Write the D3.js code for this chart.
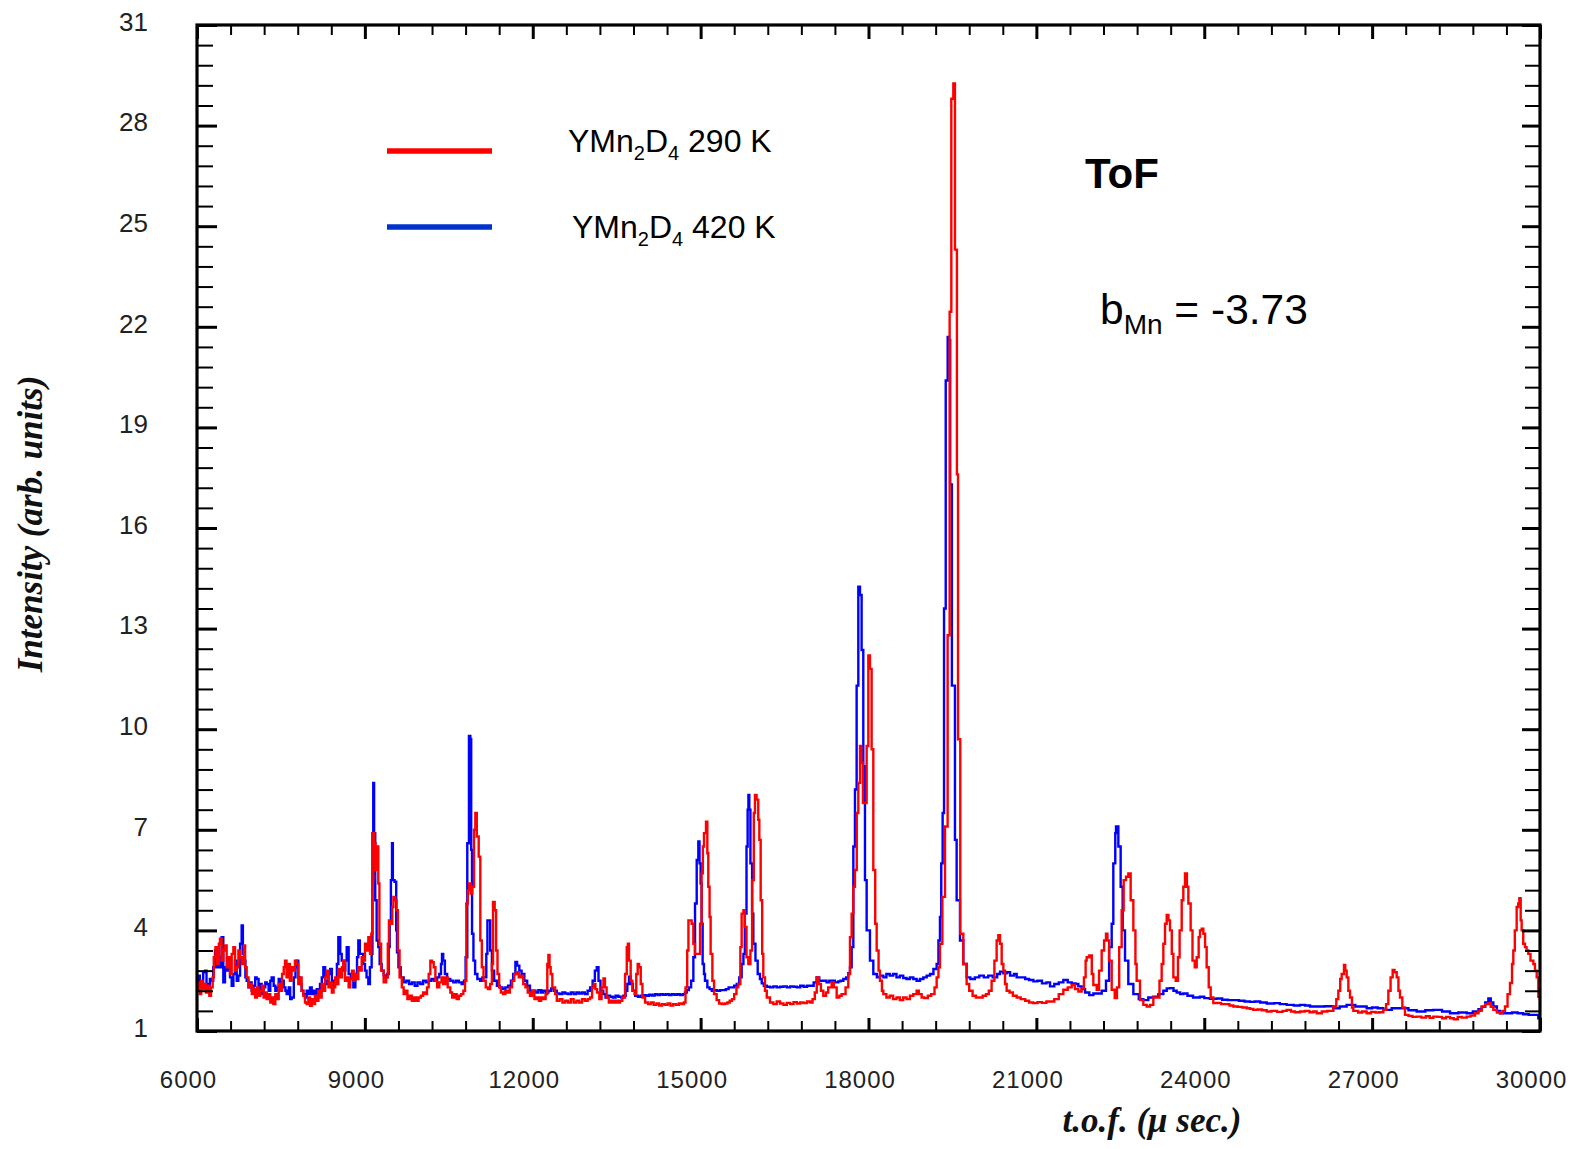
<!DOCTYPE html>
<html><head><meta charset="utf-8">
<script src="https://cdn.jsdelivr.net/npm/d3@7"></script>
<style>
html,body{margin:0;padding:0;background:#fff;}
svg{display:block;}
</style></head>
<body>
<svg id="chart" width="1573" height="1149"></svg>
<script>
// ---- data (time of flight in µs, intensity in arb. units) ----
const tofMajorTicks = [6000, 9000, 12000, 15000, 18000, 21000, 24000, 27000, 30000];
const intensityMajorTicks = [1, 4, 7, 10, 13, 16, 19, 22, 25, 28, 31];
const legendLabels = [{base:"YMn", s1:"2", mid:"D", s2:"4", tail:" 290 K"}, {base:"YMn", s1:"2", mid:"D", s2:"4", tail:" 420 K"}];

const series290 = [
[6000,2.2],[6025,2.45],[6050,2.1],[6075,2.5],[6100,2.25],[6130,2.4],[6160,2.15],[6190,2.35],[6220,2.05],[6250,2.3],[6280,2.6],[6300,3.2],[6330,3.5],[6360,3.0],[6390,3.6],[6411,3.75],[6440,3.1],[6470,3.4],[6500,3.55],[6530,2.9],[6560,3.2],[6590,2.7],[6620,3.3],[6650,3.5],[6680,2.8],[6709,2.9],[6740,3.4],[6768,3.2],[6800,3.0],[6840,3.55],[6860,2.9],[6888,2.6],[6920,2.3],[6947,2.4],[6980,2.1],[7010,2.25],[7040,2.0],[7070,2.3],[7100,2.05],[7130,2.2],[7160,2.35],[7190,2.0],[7220,2.15],[7245,1.95],[7280,2.1],[7310,1.85],[7340,2.0],[7364,1.8],[7400,2.1],[7430,1.95],[7460,2.4],[7490,2.2],[7520,2.7],[7550,2.9],[7573,3.1],[7600,2.6],[7630,3.0],[7660,2.5],[7690,2.9],[7722,2.8],[7750,3.1],[7781,3.0],[7810,2.4],[7841,2.6],[7870,2.2],[7900,2.05],[7930,1.85],[7960,1.8],[7990,2.0],[8020,1.75],[8050,1.95],[8079,1.8],[8110,2.05],[8140,1.9],[8170,2.2],[8200,2.0],[8228,2.4],[8260,2.2],[8290,2.6],[8317,2.8],[8350,2.3],[8377,2.45],[8410,2.15],[8440,2.3],[8470,2.6],[8500,2.4],[8526,2.85],[8560,2.6],[8590,2.9],[8615,3.1],[8645,2.5],[8675,2.6],[8710,2.3],[8740,2.55],[8770,2.8],[8800,2.5],[8830,2.7],[8860,2.55],[8883,2.9],[8910,2.8],[8943,3.2],[8970,3.1],[9002,3.6],[9030,3.4],[9062,3.8],[9092,3.3],[9115,3.9],
[9135,5.5],[9150,6.9],[9170,6.6],[9190,5.8],[9217,6.5],[9240,5.4],[9260,3.6],[9290,2.8],[9336,2.45],[9380,2.6],[9410,3.6],[9430,4.3],[9460,4.2],[9490,4.7],[9510,5.0],[9540,4.9],[9565,4.6],[9590,3.4],[9620,2.6],[9660,2.3],[9693,2.1],[9730,2.2],[9760,1.95],[9800,2.05],[9840,1.9],[9880,2.0],[9920,1.9],[9960,2.0],[10000,2.05],[10040,2.15],[10080,2.1],[10110,2.3],[10140,2.7],[10170,3.1],[10200,3.05],[10230,2.9],[10260,2.5],[10290,2.3],[10330,2.45],[10370,2.6],[10400,2.4],[10440,2.6],[10480,2.3],[10527,2.15],[10560,2.0],[10600,2.1],[10640,1.95],[10680,2.05],[10720,2.1],[10760,2.2],[10790,2.5],[10813,4.8],[10840,5.2],[10860,5.4],[10890,5.1],[10920,5.3],[10950,7.0],[10974,7.5],[11000,6.8],[11034,6.2],[11063,3.7],[11090,2.9],[11120,2.5],[11160,2.3],[11200,2.25],[11240,2.4],[11270,3.0],[11290,4.85],[11320,4.6],[11345,3.4],[11370,2.7],[11400,2.3],[11430,2.15],[11470,2.1],[11510,2.2],[11550,2.15],[11590,2.3],[11630,2.5],[11670,2.7],[11710,2.75],[11750,2.6],[11790,2.65],[11830,2.4],[11870,2.3],[11910,2.15],[11950,2.05],[11990,2.2],[12030,1.95],[12070,2.0],[12110,1.9],[12150,2.0],[12191,1.95],[12230,2.1],[12260,3.0],[12280,3.27],[12300,2.9],[12320,2.7],[12350,2.3],[12400,2.1],[12430,1.9],[12480,1.95],[12530,1.85],[12580,1.9],[12630,1.85],[12680,1.95],[12730,1.85],[12780,1.9],[12830,1.85],[12880,1.95],[12930,1.9],[12980,1.95],[13025,2.0],[13060,2.3],[13090,2.4],[13120,2.25],[13150,2.15],[13190,1.95],[13230,2.3],[13263,2.57],[13290,2.3],[13320,2.0],[13360,1.85],[13400,1.9],[13440,1.85],[13480,1.9],[13520,1.85],[13560,1.9],[13600,2.0],[13650,2.7],[13680,3.5],[13700,3.6],[13720,3.1],[13750,2.5],[13780,2.2],[13820,2.1],[13850,2.7],[13875,3.0],[13900,2.9],[13930,2.4],[13960,2.0],[14008,1.85],[14060,1.8],[14110,1.85],[14160,1.78],[14210,1.82],[14260,1.76],[14310,1.8],[14360,1.78],[14410,1.82],[14460,1.76],[14510,1.8],[14560,1.78],[14610,1.82],[14660,1.8],[14700,1.85],[14730,2.3],[14760,3.4],[14782,4.3],[14810,4.3],[14840,4.2],[14870,3.6],[14899,3.3],[14930,3.3],[14959,3.3],[14990,4.2],[15018,5.7],[15040,6.5],[15060,6.9],[15096,7.24],[15120,6.3],[15137,5.3],[15160,4.4],[15179,3.3],[15210,2.5],[15240,2.1],[15286,1.92],[15330,1.82],[15380,1.8],[15430,1.82],[15480,1.85],[15520,1.9],[15560,1.95],[15600,2.1],[15640,2.3],[15673,2.4],[15710,3.5],[15733,4.5],[15765,4.6],[15790,4.1],[15820,3.2],[15852,3.0],[15890,3.4],[15920,5.5],[15950,7.5],[15971,8.04],[16000,7.9],[16030,7.3],[16049,6.7],[16073,4.9],[16100,3.3],[16120,2.6],[16150,2.2],[16182,2.0],[16240,1.85],[16300,1.8],[16360,1.88],[16420,1.82],[16480,1.78],[16540,1.84],[16600,1.8],[16660,1.86],[16720,1.82],[16780,1.85],[16840,1.83],[16900,1.88],[16956,1.85],[17000,1.95],[17040,2.15],[17075,2.6],[17110,2.4],[17150,2.2],[17192,2.05],[17240,2.15],[17280,2.3],[17341,2.45],[17380,2.3],[17431,2.0],[17480,2.05],[17520,2.1],[17550,2.1],[17590,2.3],[17639,2.7],[17669,3.8],[17699,4.5],[17729,5.3],[17758,5.8],[17790,7.5],[17818,8.4],[17848,9.5],[17870,9.0],[17900,7.8],[17937,7.8],[17967,9.5],[17997,12.2],[18026,11.8],[18056,9.4],[18086,5.8],[18120,4.2],[18146,3.4],[18180,2.8],[18205,2.5],[18240,2.2],[18265,2.1],[18320,2.0],[18380,2.05],[18440,1.95],[18500,2.0],[18560,1.92],[18620,2.0],[18680,1.95],[18740,2.05],[18800,2.1],[18860,2.2],[18900,2.1],[18950,2.0],[19000,1.98],[19060,2.05],[19120,2.1],[19180,2.3],[19218,2.6],[19250,2.9],[19277,3.6],[19320,5.0],[19367,7.1],[19414,12.8],[19450,22.45],[19480,28.8],[19516,29.26],[19545,24.3],[19580,17.6],[19600,9.7],[19640,3.9],[19694,3.0],[19754,2.4],[19800,2.2],[19860,2.05],[19920,2.0],[19980,2.0],[20040,2.05],[20100,2.1],[20150,2.2],[20200,2.5],[20250,3.1],[20290,3.7],[20320,3.86],[20350,3.6],[20380,3.0],[20410,2.8],[20440,2.4],[20469,2.2],[20520,2.15],[20580,2.05],[20648,2.0],[20720,1.95],[20800,1.9],[20870,1.85],[20946,1.83],[21020,1.86],[21100,1.84],[21180,1.88],[21244,1.88],[21320,1.95],[21400,2.1],[21482,2.23],[21560,2.3],[21631,2.37],[21690,2.25],[21750,2.18],[21809,2.28],[21850,2.6],[21880,3.1],[21899,3.2],[21946,3.25],[21990,2.7],[22018,2.37],[22078,2.23],[22120,2.8],[22167,3.4],[22210,3.7],[22244,3.9],[22270,3.7],[22300,3.1],[22346,2.23],[22400,1.98],[22440,2.3],[22480,3.5],[22524,4.6],[22560,5.5],[22602,5.6],[22643,5.7],[22685,4.9],[22733,4.0],[22770,3.0],[22792,2.5],[22852,1.92],[22911,1.78],[22971,1.73],[23030,1.78],[23090,2.0],[23150,2.0],[23200,2.5],[23239,3.0],[23269,3.6],[23299,4.2],[23329,4.46],[23360,4.3],[23388,4.0],[23420,3.3],[23448,2.6],[23490,2.5],[23530,3.2],[23560,4.0],[23597,4.9],[23626,5.3],[23656,5.7],[23690,5.3],[23716,4.8],[23757,4.0],[23790,3.1],[23830,2.9],[23865,3.2],[23900,3.8],[23924,4.0],[23955,4.05],[23984,3.9],[24015,3.5],[24043,2.9],[24080,2.3],[24115,2.0],[24162,1.83],[24222,1.84],[24300,1.8],[24380,1.8],[24450,1.76],[24520,1.73],[24600,1.72],[24680,1.7],[24760,1.68],[24818,1.66],[24877,1.63],[24950,1.64],[25030,1.62],[25116,1.58],[25200,1.6],[25300,1.57],[25400,1.6],[25473,1.63],[25550,1.58],[25620,1.56],[25711,1.58],[25800,1.6],[25880,1.56],[25950,1.58],[26009,1.53],[26100,1.58],[26200,1.6],[26307,1.73],[26360,1.95],[26396,2.2],[26430,2.55],[26456,2.7],[26497,2.97],[26520,2.8],[26545,2.6],[26575,2.2],[26605,2.0],[26640,1.7],[26664,1.6],[26750,1.55],[26820,1.58],[26902,1.53],[26980,1.57],[27060,1.55],[27130,1.56],[27200,1.63],[27250,1.8],[27290,2.2],[27330,2.6],[27367,2.82],[27400,2.75],[27439,2.6],[27470,2.2],[27498,2.0],[27540,1.7],[27587,1.48],[27650,1.45],[27720,1.42],[27796,1.43],[27880,1.4],[27960,1.44],[28030,1.39],[28094,1.43],[28170,1.42],[28250,1.38],[28320,1.42],[28392,1.38],[28460,1.35],[28530,1.42],[28600,1.4],[28690,1.43],[28760,1.46],[28838,1.53],[28900,1.6],[28958,1.73],[29020,1.8],[29077,1.83],[29120,1.72],[29166,1.63],[29230,1.55],[29285,1.53],[29330,1.6],[29374,1.73],[29420,2.1],[29464,2.43],[29500,3.0],[29523,3.4],[29550,4.0],[29583,4.7],[29610,4.8],[29631,4.96],[29655,4.3],[29672,4.0],[29700,3.6],[29732,3.5],[29760,3.4],[29791,3.3],[29830,3.1],[29881,3.0],[29910,2.8],[29941,2.6],[29970,2.02],[30000,1.9]
];

const series420 = [
[6000,2.5],[6024,2.65],[6050,2.3],[6083,2.45],[6110,2.75],[6143,2.8],[6170,2.4],[6203,2.3],[6230,2.55],[6260,2.5],[6290,2.9],[6322,3.4],[6350,2.9],[6380,3.2],[6411,2.9],[6440,3.8],[6470,2.45],[6500,2.9],[6530,2.8],[6560,3.1],[6590,2.6],[6620,2.35],[6650,2.7],[6679,3.1],[6710,2.5],[6739,2.65],[6770,3.6],[6798,4.15],[6820,3.3],[6840,3.1],[6865,2.6],[6888,2.5],[6920,2.3],[6950,2.45],[6977,2.2],[7010,2.35],[7040,2.6],[7066,2.55],[7100,2.25],[7130,2.4],[7156,2.1],[7190,2.3],[7220,2.45],[7245,2.4],[7280,2.2],[7310,2.5],[7334,2.6],[7370,2.35],[7400,2.2],[7424,2.3],[7460,2.55],[7490,2.4],[7513,2.5],[7550,2.3],[7580,2.2],[7602,2.1],[7640,2.3],[7665,1.95],[7692,2.0],[7730,2.6],[7760,2.9],[7781,3.1],[7810,2.6],[7841,2.4],[7870,2.2],[7900,2.1],[7930,2.0],[7960,2.2],[7990,2.1],[8019,2.3],[8050,2.1],[8080,2.2],[8109,2.0],[8140,2.25],[8170,2.1],[8198,2.4],[8230,2.6],[8258,2.9],[8290,2.5],[8317,2.4],[8350,2.7],[8380,2.85],[8410,2.3],[8440,2.5],[8470,2.4],[8500,3.0],[8526,3.8],[8560,3.3],[8586,3.1],[8620,2.8],[8650,3.1],[8675,3.5],[8710,2.7],[8750,2.6],[8794,2.3],[8830,2.7],[8860,3.2],[8883,3.7],[8910,3.3],[8943,3.3],[8970,3.0],[9002,2.8],[9030,2.6],[9062,2.4],[9090,2.9],[9121,3.3],
[9135,6.9],[9150,8.4],[9165,6.9],[9185,4.9],[9210,3.7],[9240,3.5],[9264,3.0],[9300,2.8],[9336,2.66],[9370,2.6],[9400,2.7],[9425,3.5],[9443,4.2],[9465,5.5],[9485,6.6],[9500,5.5],[9530,5.45],[9560,4.0],[9574,3.35],[9600,2.9],[9640,2.6],[9693,2.45],[9740,2.5],[9790,2.4],[9840,2.45],[9890,2.35],[9940,2.45],[9990,2.4],[10040,2.5],[10090,2.45],[10140,2.5],[10190,2.55],[10240,2.5],[10290,2.6],[10330,2.7],[10360,3.0],[10378,3.3],[10400,3.1],[10430,2.7],[10470,2.55],[10527,2.5],[10580,2.45],[10630,2.5],[10680,2.45],[10730,2.4],[10770,2.5],[10800,3.2],[10830,6.6],[10860,9.8],[10885,9.7],[10900,6.4],[10915,3.9],[10940,3.1],[10970,2.7],[11010,2.55],[11060,2.5],[11100,2.6],[11140,2.6],[11170,3.3],[11190,4.3],[11215,4.3],[11240,3.4],[11270,2.8],[11310,2.5],[11360,2.35],[11410,2.3],[11460,2.25],[11510,2.3],[11560,2.35],[11610,2.5],[11650,2.7],[11690,3.06],[11720,2.95],[11760,2.8],[11800,2.7],[11850,2.5],[11900,2.35],[11950,2.2],[12000,2.2],[12050,2.15],[12100,2.22],[12150,2.15],[12191,2.2],[12240,2.15],[12280,2.2],[12330,2.27],[12380,2.2],[12429,2.12],[12480,2.1],[12530,2.15],[12580,2.12],[12630,2.1],[12680,2.15],[12730,2.1],[12780,2.15],[12830,2.12],[12880,2.15],[12930,2.1],[12980,2.2],[13025,2.3],[13070,2.5],[13110,2.8],[13144,2.9],[13175,2.5],[13210,2.2],[13260,2.1],[13300,2.0],[13340,2.05],[13382,2.02],[13430,2.0],[13480,2.05],[13530,2.02],[13580,2.0],[13620,2.05],[13660,2.2],[13690,2.4],[13720,2.62],[13750,2.4],[13790,2.2],[13830,2.05],[13880,2.02],[13930,2.05],[13980,2.07],[14030,2.05],[14080,2.08],[14130,2.06],[14180,2.1],[14230,2.07],[14280,2.1],[14330,2.08],[14380,2.1],[14430,2.07],[14480,2.1],[14530,2.08],[14580,2.1],[14630,2.07],[14680,2.1],[14720,2.15],[14752,2.22],[14790,2.3],[14830,2.5],[14870,3.2],[14900,4.8],[14930,6.1],[14959,6.65],[14980,6.0],[15000,5.4],[15018,4.2],[15036,3.0],[15060,2.7],[15078,2.5],[15120,2.3],[15160,2.25],[15200,2.2],[15240,2.22],[15290,2.2],[15348,2.22],[15400,2.22],[15450,2.25],[15500,2.3],[15550,2.3],[15600,2.35],[15646,2.4],[15690,2.6],[15733,3.0],[15765,3.3],[15790,4.5],[15820,6.5],[15840,7.6],[15854,8.04],[15870,7.6],[15890,6.0],[15920,4.5],[15942,3.6],[15980,3.1],[16020,2.7],[16060,2.55],[16092,2.42],[16130,2.35],[16182,2.32],[16241,2.3],[16300,2.33],[16360,2.3],[16420,2.32],[16480,2.33],[16540,2.3],[16600,2.33],[16660,2.32],[16720,2.3],[16780,2.35],[16840,2.32],[16900,2.35],[16956,2.35],[17020,2.45],[17073,2.6],[17120,2.5],[17192,2.5],[17250,2.45],[17300,2.5],[17341,2.5],[17400,2.45],[17460,2.48],[17500,2.5],[17550,2.55],[17600,2.6],[17639,2.72],[17669,2.9],[17699,3.5],[17729,6.5],[17758,8.2],[17788,11.3],[17818,14.25],[17848,14.0],[17877,12.36],[17907,8.9],[17937,5.5],[17967,4.0],[18026,3.1],[18086,2.7],[18150,2.6],[18205,2.65],[18265,2.6],[18320,2.7],[18380,2.65],[18440,2.7],[18500,2.6],[18560,2.65],[18620,2.58],[18680,2.55],[18740,2.6],[18800,2.55],[18860,2.5],[18920,2.55],[18980,2.6],[19040,2.65],[19100,2.7],[19160,2.85],[19218,3.0],[19250,3.7],[19277,4.4],[19300,6.0],[19325,7.5],[19350,13.6],[19380,20.4],[19415,21.7],[19440,21.6],[19460,17.3],[19490,11.3],[19545,6.7],[19575,4.9],[19635,3.7],[19694,3.0],[19754,2.6],[19820,2.55],[19900,2.6],[19980,2.65],[20060,2.6],[20140,2.65],[20220,2.6],[20300,2.7],[20350,2.77],[20410,2.72],[20469,2.75],[20530,2.65],[20600,2.7],[20648,2.6],[20720,2.6],[20800,2.55],[20870,2.52],[20946,2.48],[21020,2.5],[21100,2.42],[21180,2.45],[21244,2.33],[21320,2.4],[21400,2.45],[21482,2.52],[21560,2.45],[21631,2.42],[21700,2.4],[21750,2.33],[21809,2.25],[21870,2.15],[21946,2.07],[22018,2.12],[22100,2.12],[22167,2.2],[22244,2.5],[22300,3.5],[22346,4.2],[22375,6.0],[22410,6.9],[22423,7.1],[22465,6.5],[22506,5.3],[22542,4.0],[22584,3.1],[22643,2.4],[22733,2.1],[22830,1.95],[22911,1.92],[23000,2.0],[23090,2.02],[23180,2.1],[23269,2.2],[23330,2.27],[23388,2.28],[23450,2.2],[23507,2.15],[23570,2.1],[23626,2.12],[23700,2.05],[23800,2.0],[23924,2.02],[24000,1.98],[24100,1.96],[24222,1.97],[24320,1.93],[24420,1.92],[24520,1.92],[24620,1.9],[24720,1.88],[24818,1.87],[24900,1.88],[25000,1.85],[25116,1.82],[25250,1.83],[25350,1.8],[25473,1.78],[25600,1.76],[25711,1.78],[25800,1.76],[25890,1.73],[26009,1.73],[26150,1.74],[26307,1.68],[26420,1.73],[26545,1.78],[26700,1.73],[26902,1.68],[27000,1.7],[27100,1.68],[27200,1.63],[27350,1.68],[27498,1.68],[27650,1.62],[27796,1.58],[27950,1.62],[28094,1.63],[28250,1.58],[28392,1.53],[28540,1.55],[28690,1.53],[28800,1.58],[28900,1.65],[28958,1.72],[29020,1.85],[29077,1.97],[29120,1.85],[29166,1.73],[29230,1.6],[29285,1.53],[29400,1.53],[29500,1.55],[29600,1.53],[29700,1.5],[29800,1.48],[29881,1.48],[29970,1.38],[30000,1.4]
];

// ---- layout ----
const svg = d3.select("#chart");
const L = 197, R = 1540, T = 25, B = 1031;
const x = d3.scaleLinear().domain([6000, 30000]).range([L, R]);
const y = d3.scaleLinear().domain([1, 31]).range([B, T]);

const xMinor = d3.range(6000, 30001, 600).filter(v => v % 3000 !== 0);
const yMinor = d3.range(0, 51).map(i => 1 + i * 0.6).filter(v => Math.abs((v - 1) / 3 - Math.round((v - 1) / 3)) > 1e-6);

// clip
svg.append("defs").append("clipPath").attr("id", "plot")
  .append("rect").attr("x", L).attr("y", T).attr("width", R - L).attr("height", B - T);

// series
const line = d3.line().x(d => x(d[0])).y(d => y(d[1])).curve(d3.curveStepAfter);
const g = svg.append("g").attr("clip-path", "url(#plot)");
g.append("path").datum(series420).attr("d", line).attr("fill", "none").attr("stroke", "#0000ff").attr("stroke-width", 2.4).attr("stroke-linejoin", "miter");
g.append("path").datum(series290).attr("d", line).attr("fill", "none").attr("stroke", "#ff0000").attr("stroke-width", 2.4).attr("stroke-linejoin", "miter");

// ticks (inside)
function tickAxis(axis, tx, ty, vals, size, width) {
  const a = svg.append("g").attr("transform", `translate(${tx},${ty})`)
    .call(axis.tickValues(vals).tickSizeInner(size).tickSizeOuter(0).tickFormat(""));
  a.select(".domain").remove();
  a.selectAll("line").attr("stroke", "#000").attr("stroke-width", width);
  return a;
}
tickAxis(d3.axisLeft(y), L, 0, yMinor, -16, 2);
tickAxis(d3.axisLeft(y), L, 0, intensityMajorTicks, -20, 3);
tickAxis(d3.axisRight(y), R, 0, yMinor, -15, 2);
tickAxis(d3.axisRight(y), R, 0, intensityMajorTicks, -18, 3);
tickAxis(d3.axisTop(x), 0, T, xMinor, -10, 2);
tickAxis(d3.axisTop(x), 0, T, tofMajorTicks, -14, 3);
tickAxis(d3.axisBottom(x), 0, B, xMinor, -10, 2);
tickAxis(d3.axisBottom(x), 0, B, tofMajorTicks, -13, 3);

// frame
svg.append("rect").attr("x", L).attr("y", T).attr("width", R - L).attr("height", B - T)
  .attr("fill", "none").attr("stroke", "#000").attr("stroke-width", 3.2);

// tick labels
const yl = svg.append("g").attr("transform", `translate(${L},0)`)
  .call(d3.axisLeft(y).tickValues(intensityMajorTicks).tickSize(0).tickPadding(49).tickFormat(d3.format("d")));
yl.select(".domain").remove();
yl.selectAll("text").attr("font-family", "Liberation Sans, Arial, sans-serif").attr("font-size", 26)
  .attr("fill", "#222").attr("dy", "0.2em");

const xl = svg.append("g").attr("transform", `translate(0,${B})`)
  .call(d3.axisBottom(x).tickValues(tofMajorTicks).tickSize(0).tickPadding(40).tickFormat(d3.format("d")));
xl.select(".domain").remove();
xl.selectAll("text").attr("font-family", "Liberation Sans, Arial, sans-serif").attr("font-size", 24)
  .attr("letter-spacing", "1px").attr("fill", "#222").attr("dx", -9);

// axis titles
svg.append("text").attr("transform", "translate(42,524) rotate(-90)")
  .attr("text-anchor", "middle").attr("font-family", "Liberation Serif, Times New Roman, serif")
  .attr("font-weight", "bold").attr("font-style", "italic").attr("font-size", 35).attr("fill", "#111")
  .text("Intensity (arb. units)");

svg.append("text").attr("x", 1152).attr("y", 1132)
  .attr("text-anchor", "middle").attr("font-family", "Liberation Serif, Times New Roman, serif")
  .attr("font-weight", "bold").attr("font-style", "italic").attr("font-size", 35).attr("fill", "#111")
  .text("t.o.f. (μ sec.)");

// legend
const legColors = ["#ff0000", "#0033cc"];
const legY = [151, 227];
const legTextX = [568, 572];
const legTextY = [152, 238];
legendLabels.forEach((lab, i) => {
  svg.append("line").attr("x1", 387).attr("x2", 492).attr("y1", legY[i]).attr("y2", legY[i])
    .attr("stroke", legColors[i]).attr("stroke-width", 5.5);
  const t = svg.append("text").attr("x", legTextX[i]).attr("y", legTextY[i])
    .attr("font-family", "Liberation Sans, Arial, sans-serif").attr("font-size", 32).attr("fill", "#000");
  t.append("tspan").text(lab.base);
  t.append("tspan").attr("font-size", 20).attr("dy", 8).text(lab.s1);
  t.append("tspan").attr("dy", -8).text(lab.mid);
  t.append("tspan").attr("font-size", 20).attr("dy", 8).text(lab.s2);
  t.append("tspan").attr("dy", -8).text(lab.tail);
});

// annotations
svg.append("text").attr("x", 1085).attr("y", 188)
  .attr("font-family", "Liberation Sans, Arial, sans-serif").attr("font-weight", "bold")
  .attr("font-size", 42).attr("fill", "#000").text("ToF");

const bt = svg.append("text").attr("x", 1100).attr("y", 324)
  .attr("font-family", "Liberation Sans, Arial, sans-serif").attr("font-size", 42.5).attr("fill", "#000");
bt.append("tspan").text("b");
bt.append("tspan").attr("font-size", 28).attr("dy", 10).text("Mn");
bt.append("tspan").attr("dy", -10).text(" = -3.73");
</script>
</body></html>
